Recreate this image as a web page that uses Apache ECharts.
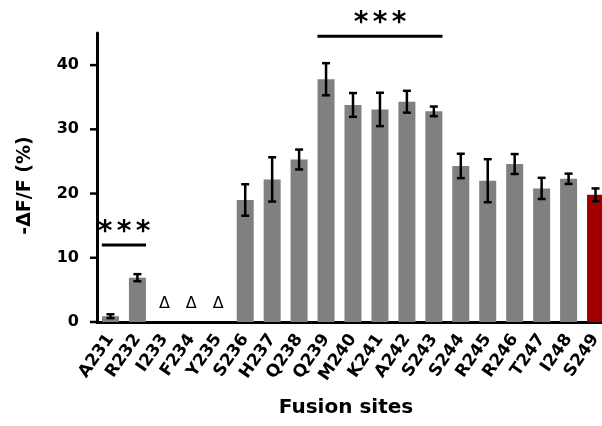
<!DOCTYPE html>
<html>
<head>
<meta charset="utf-8">
<script src="https://cdn.jsdelivr.net/npm/echarts@6/dist/echarts.min.js"></script>
<style>
  html, body { margin: 0; padding: 0; background: #fff; }
  #main { width: 602px; height: 426px; }
</style>
</head>
<body>
<div id="main"></div>
<script>
// fusion sites along x
var sites = ['A231', 'R232', 'I233', 'F234', 'Y235', 'S236', 'H237', 'Q238', 'Q239', 'M240',
             'K241', 'A242', 'S243', 'S244', 'R245', 'R246', 'T247', 'I248', 'S249'];
// mean -dF/F (%), null = no response
var meanVals = [0.9, 6.9, null, null, null, 19.0, 22.2, 25.3, 37.8, 33.8,
                33.1, 34.3, 32.8, 24.3, 22.0, 24.6, 20.8, 22.3, 19.8];
// error (+/-)
var errVals = [0.3, 0.55, null, null, null, 2.45, 3.45, 1.55, 2.5, 1.85,
               2.6, 1.7, 0.75, 1.9, 3.35, 1.55, 1.65, 0.8, 1.0];
// sites with no detectable signal
var noSignal = ['I233', 'F234', 'Y235'];
// significance brackets
var sigFrom = ['A231', 'Q239'];
var sigTo = ['R232', 'S243'];
var sigY = [12.0, 44.5];
var yTicks = [0, 10, 20, 30, 40];

var refSite = 'S249';
var font = 'DejaVu Sans';

var barData = meanVals.map(function (v, i) {
  return {
    value: v,
    itemStyle: { color: sites[i] === refSite ? '#a20000' : '#808080' }
  };
});

var errData = meanVals.map(function (v, i) {
  return v == null ? null : [i, v - errVals[i], v + errVals[i]];
}).filter(function (d) { return d; });

var sigData = sigFrom.map(function (f, i) {
  return [sites.indexOf(f), sites.indexOf(sigTo[i]), sigY[i]];
});

var ndData = noSignal.map(function (s) { return [sites.indexOf(s), 0]; });

var chart = echarts.init(document.getElementById('main'));

chart.setOption({
  animation: false,
  grid: { left: 97, right: -7, top: 33, bottom: 104, outerBoundsMode: 'none' },
  xAxis: {
    type: 'category',
    data: sites,
    axisLine: { lineStyle: { color: '#000', width: 3 } },
    axisTick: { show: false },
    axisLabel: {
      rotate: 55, interval: 0, margin: 14,
      color: '#000', fontFamily: font, fontWeight: 'bold', fontSize: 17
    },
    name: 'Fusion sites',
    nameLocation: 'middle',
    nameGap: 76,
    nameTextStyle: {
      color: '#000', fontFamily: font, fontWeight: 'bold', fontSize: 20,
      padding: [0, 14, 0, 0]
    }
  },
  yAxis: {
    type: 'value',
    min: 0, max: 45, interval: 10,
    splitLine: { show: false },
    axisLine: { show: true, lineStyle: { color: '#000', width: 3 } },
    axisTick: { show: false },
    axisLabel: {
      customValues: yTicks, margin: 18,
      color: '#000', fontFamily: font, fontWeight: 'bold', fontSize: 16
    },
    name: '-ΔF/F (%)',
    nameLocation: 'middle',
    nameGap: 62,
    nameRotate: 90,
    nameTextStyle: {
      color: '#000', fontFamily: font, fontWeight: 'bold', fontSize: 19,
      padding: [0, 16, 0, 0]
    }
  },
  series: [
    {
      type: 'bar',
      data: barData,
      barWidth: 17
    },
    {
      type: 'custom',
      data: errData,
      z: 5,
      renderItem: function (params, api) {
        var x = api.value(0);
        var lo = api.coord([x, api.value(1)]);
        var hi = api.coord([x, api.value(2)]);
        var cap = 4;
        var st = { stroke: '#000', lineWidth: 2.5 };
        return {
          type: 'group',
          children: [
            { type: 'line', shape: { x1: lo[0], y1: lo[1], x2: hi[0], y2: hi[1] }, style: st },
            { type: 'line', shape: { x1: lo[0] - cap, y1: lo[1], x2: lo[0] + cap, y2: lo[1] }, style: st },
            { type: 'line', shape: { x1: hi[0] - cap, y1: hi[1], x2: hi[0] + cap, y2: hi[1] }, style: st }
          ]
        };
      }
    },
    {
      // y-axis ticks at the labelled values only (no tick at the axis top)
      type: 'custom',
      data: yTicks.map(function (v) { return [0, v]; }),
      clip: false,
      z: 6,
      renderItem: function (params, api) {
        var p = api.coord([0, api.value(1)]);
        var x0 = p[0] - api.size([1, 0])[0] / 2;
        return {
          type: 'line',
          shape: { x1: x0 - 7, y1: p[1], x2: x0, y2: p[1] },
          style: { stroke: '#000', lineWidth: 2.5 }
        };
      }
    },
    {
      type: 'custom',
      data: ndData,
      renderItem: function (params, api) {
        var p = api.coord([api.value(0), api.value(1)]);
        return {
          type: 'text',
          style: {
            x: p[0], y: p[1] - 18, text: 'Δ',
            fill: '#000', font: '16px ' + font,
            align: 'center', verticalAlign: 'middle'
          }
        };
      }
    },
    {
      type: 'custom',
      data: sigData,
      clip: false,
      renderItem: function (params, api) {
        var bw = api.size([1, 0])[0] * 0.32;
        var a = api.coord([api.value(0), api.value(2)]);
        var b = api.coord([api.value(1), api.value(2)]);
        var x1 = a[0] - bw, x2 = b[0] + bw;
        var cx = (x1 + x2) / 2;
        var kids = [
          { type: 'line', shape: { x1: x1, y1: a[1], x2: x2, y2: a[1] },
            style: { stroke: '#000', lineWidth: 3 } }
        ];
        [-1, 0, 1].forEach(function (k) {
          kids.push({ type: 'text', style: {
            x: cx + k * 19, y: a[1] - 12, text: '*',
            fill: '#000', font: 'bold 28px ' + font,
            align: 'center', verticalAlign: 'middle'
          } });
        });
        return { type: 'group', children: kids };
      }
    }
  ]
});
</script>
</body>
</html>
